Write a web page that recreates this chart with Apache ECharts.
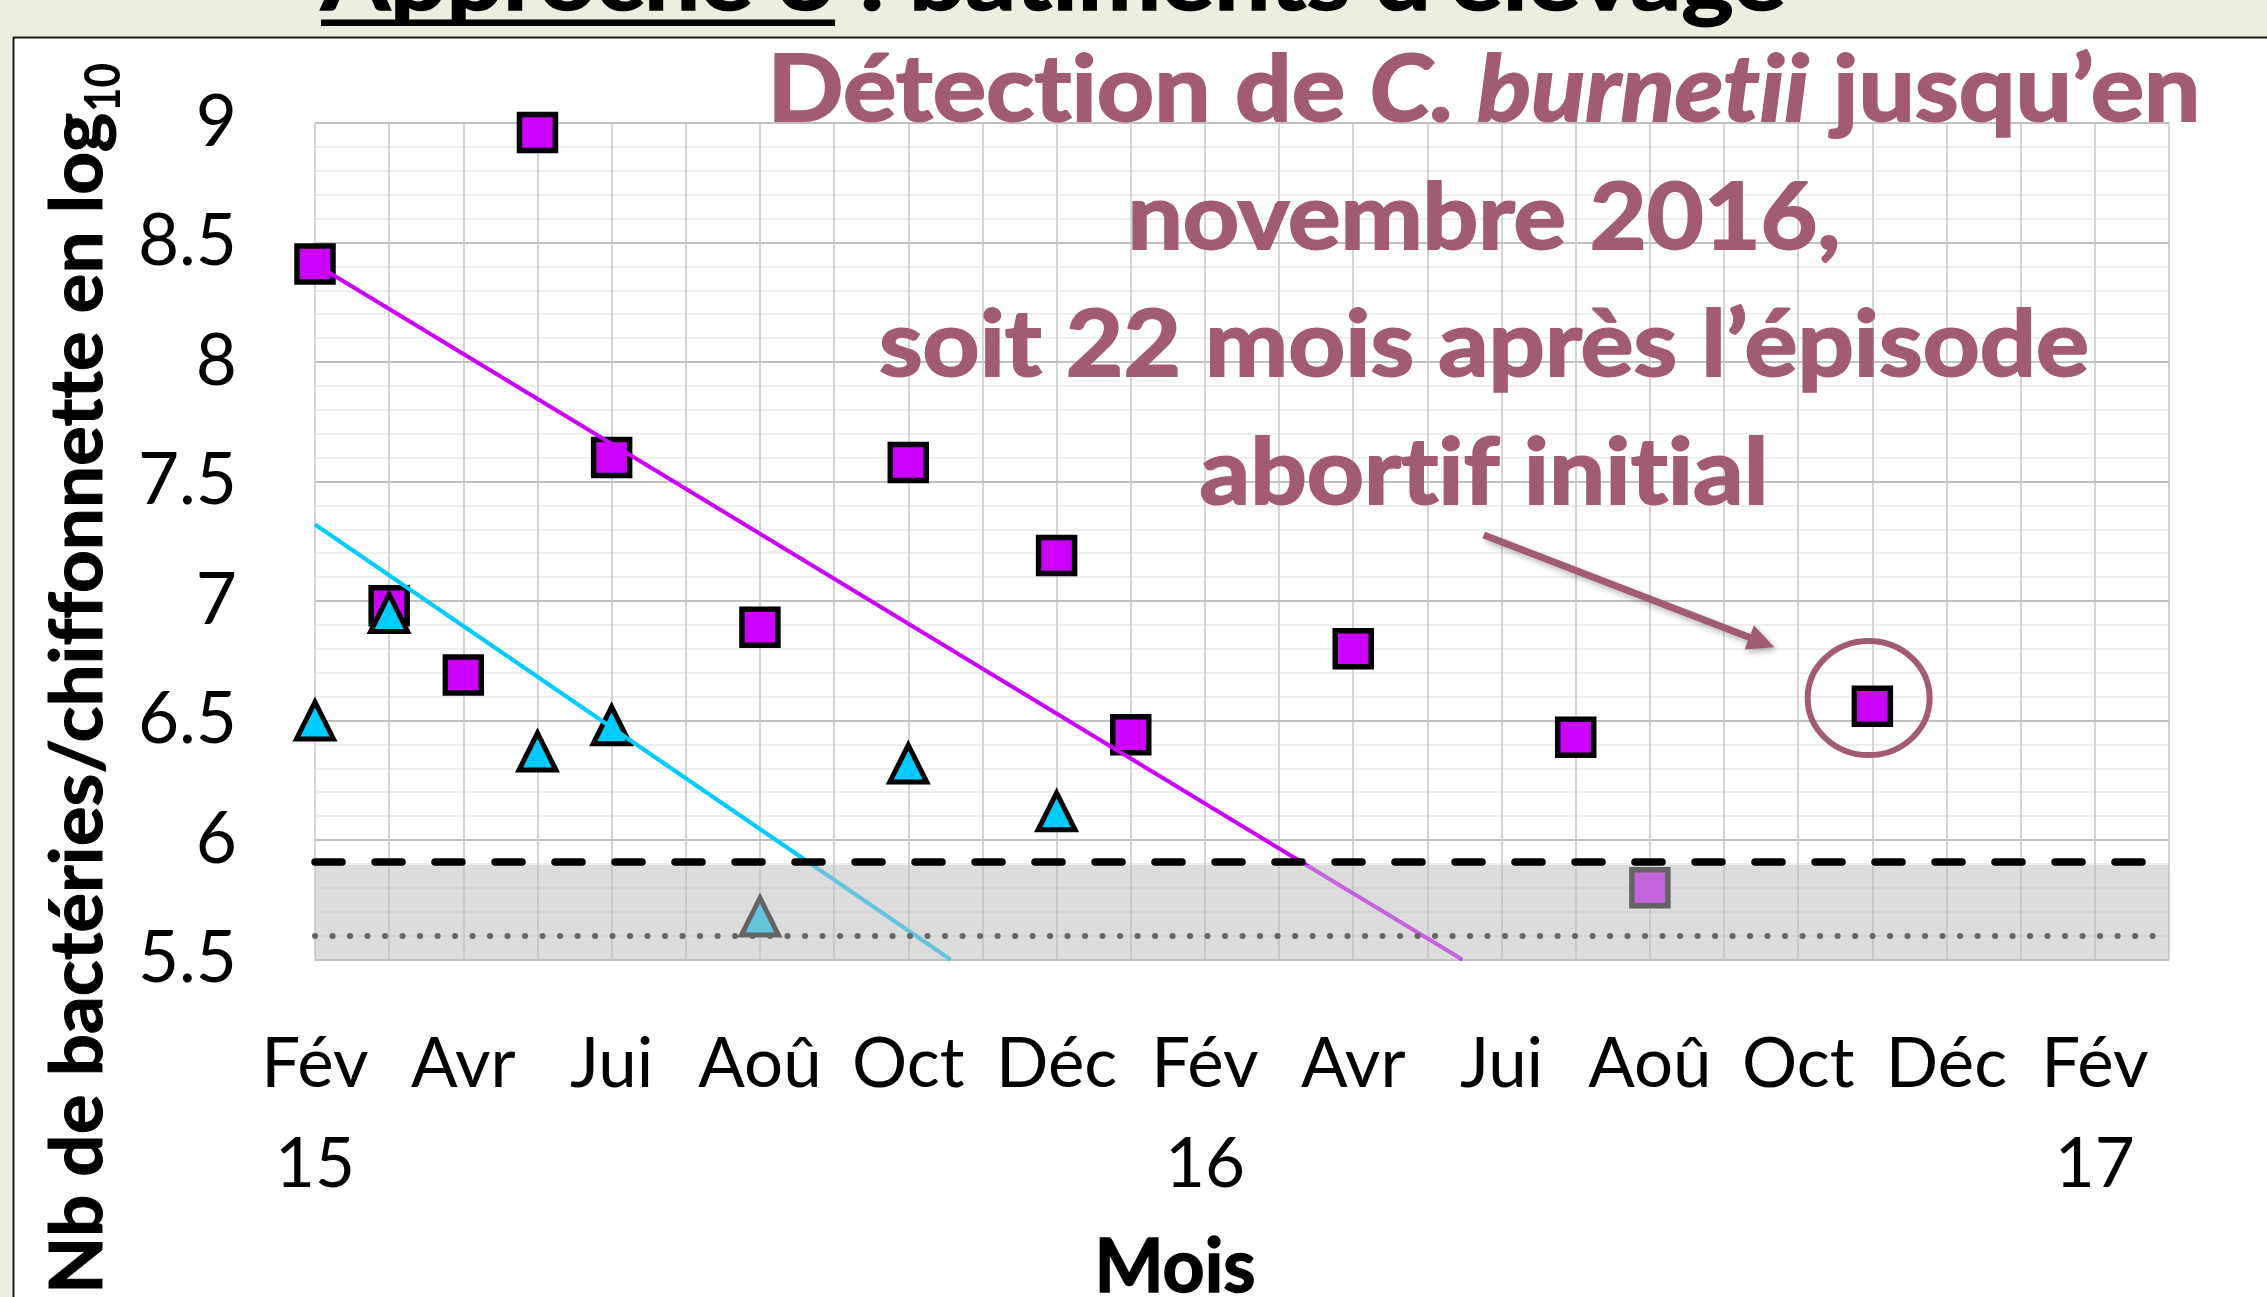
<!DOCTYPE html>
<html>
<head>
<meta charset="utf-8">
<script src="https://cdn.jsdelivr.net/npm/echarts@6/dist/echarts.min.js"></script>
<style>
  html, body { margin: 0; padding: 0; background: #ecefe0; }
  #chart { width: 2267px; height: 1297px; font-variant-ligatures: none; }
</style>
</head>
<body>
<div id="chart"></div>
<script>
// axe des x : mois écoulés depuis février 2015
const monthLabels = ['Fév', 'Avr', 'Jui', 'Aoû', 'Oct', 'Déc', 'Fév', 'Avr', 'Jui', 'Aoû', 'Oct', 'Déc', 'Fév'];
const yearLabels = ['15', '', '', '', '', '', '16', '', '', '', '', '', '17'];

// carrés (magenta)
const squareMonths = [0, 1, 2, 3, 4, 6, 8, 10, 11, 14, 17, 18, 21];
const squareValues = [8.41, 6.98, 6.69, 8.96, 7.60, 6.89, 7.58, 7.19, 6.44, 6.80, 6.43, 5.80, 6.56];

// triangles (cyan)
const triangleMonths = [0, 1, 3, 4, 6, 8, 10];
const triangleValues = [6.50, 6.95, 6.37, 6.48, 5.68, 6.32, 6.12];

// courbes de tendance (début, fin)
const squareTrend = [[0, 8.41], [15.47, 5.5]];
const triangleTrend = [[0, 7.32], [8.57, 5.5]];

// seuils
const dashedLevel = 5.91;
const dottedLevel = 5.6;
const bandTop = 5.895;

const noteLines = [
  'Détection de {i|C. burnetii} jusqu’en',
  'novembre 2016,',
  'soit 22 mois après l’épisode',
  'abortif initial'
];

// ---- mise en page ----
const noteColor = '#a25c72';
const FONT = 'Lato';
const MID = 0.32; // décalage ligne de base / milieu
// pas de ligatures (ti, ff...) comme dans l'original
const noLig = s => s.replace(/t(?=i)/g, 't\u200B').replace(/f(?=[fil])/g, 'f\u200B');

const zip = (xs, ys) => xs.map((x, i) => [x, ys[i]]);

const chart = echarts.init(document.getElementById('chart'));

const option = {
  backgroundColor: '#ffffff',
  animation: false,
  grid: { left: 315, top: 123, width: 1854, height: 836.5, containLabel: false, outerBoundsMode: 'none' },
  xAxis: {
    type: 'value', min: 0, max: 25, interval: 1,
    axisLine: { show: false },
    axisTick: { show: false },
    splitLine: { show: true, lineStyle: { color: '#c6c6c6', width: 1.5 } },
    axisLabel: {
      margin: 55, fontFamily: FONT, fontSize: 69, color: '#000', lineHeight: 100,
      formatter: function (v) {
        if (v % 2 !== 0) return '';
        const i = v / 2;
        return yearLabels[i] ? monthLabels[i] + '\n' + yearLabels[i] : monthLabels[i];
      }
    }
  },
  yAxis: {
    type: 'value', min: 5.5, max: 9, interval: 0.5,
    axisLine: { show: false },
    axisTick: { show: false },
    splitLine: { show: true, lineStyle: { color: '#c0c0c0', width: 2 } },
    minorTick: { show: false, splitNumber: 5 },
    minorSplitLine: { show: true, lineStyle: { color: '#eeeeee', width: 2 } },
    axisLabel: { margin: 78, fontFamily: FONT, fontSize: 71, color: '#000', padding: [4, 0, 0, 0] }
  },
  series: [
    {
      type: 'scatter', z: 2,
      data: zip(squareMonths, squareValues),
      symbol: 'rect', symbolSize: 36,
      itemStyle: { color: '#cc00ff', borderColor: '#000', borderWidth: 5.5, opacity: 1 }
    },
    {
      type: 'scatter', z: 2,
      data: zip(triangleMonths, triangleValues),
      symbol: 'triangle', symbolSize: 37,
      itemStyle: { color: '#00ccff', borderColor: '#000', borderWidth: 5, opacity: 1 }
    },
    {
      type: 'line', z: 3, data: squareTrend, showSymbol: false, symbol: 'none',
      lineStyle: { color: '#cc00ff', width: 4 }
    },
    {
      type: 'line', z: 3, data: triangleTrend, showSymbol: false, symbol: 'none',
      lineStyle: { color: '#00ccff', width: 4 },
      markArea: {
        silent: true, z: 10,
        label: { show: false },
        itemStyle: { color: 'rgba(189,189,189,0.53)' },
        data: [[{ yAxis: 5.5 }, { yAxis: bandTop }]]
      },
      markLine: {
        silent: true, z: 11, symbol: 'none',
        label: { show: false },
        data: [
          { yAxis: dashedLevel, lineStyle: { color: '#000', width: 7.5, type: [27, 33], cap: 'round' } },
          { yAxis: dottedLevel, lineStyle: { color: '#666', width: 6, type: [0.1, 17.4], cap: 'round' } }
        ]
      }
    }
  ]
};
chart.setOption(option);

// ---- annotations ----
const ctx = document.createElement('canvas').getContext('2d');
function measure(text, size, weight, style) {
  ctx.font = (style || 'normal') + ' ' + (weight || 'normal') + ' ' + size + 'px ' + FONT;
  return ctx.measureText(noLig(text)).width;
}
function textEl(text, x, baseline, size, opts) {
  opts = opts || {};
  const align = opts.align || 'center';
  const style = {
    text: noLig(text), fill: opts.color || '#000',
    fontFamily: FONT, fontSize: size, fontWeight: opts.weight || 'normal',
    align: align, textAlign: align,
    verticalAlign: 'middle', textVerticalAlign: 'middle',
    rich: opts.rich
  };
  if (opts.strokeWidth) {
    style.stroke = opts.color || '#000';
    style.lineWidth = opts.strokeWidth;
  }
  return {
    type: 'text', z: 50,
    x: x, y: baseline - MID * size,
    scaleX: opts.scaleX || 1,
    rotation: opts.rotation || 0,
    style: style
  };
}

const graphics = [];

// cadre
graphics.push({ type: 'rect', z: 40, shape: { x: 0, y: 0, width: 2267, height: 37 }, style: { fill: '#ecefe0' } });
graphics.push({ type: 'rect', z: 40, shape: { x: 0, y: 0, width: 13, height: 1297 }, style: { fill: '#ecefe0' } });
graphics.push({ type: 'line', z: 41, shape: { x1: 13, y1: 37.5, x2: 2267, y2: 37.5 }, style: { stroke: '#1a1a1a', lineWidth: 2 } });
graphics.push({ type: 'line', z: 41, shape: { x1: 13.5, y1: 37, x2: 13.5, y2: 1297 }, style: { stroke: '#1a1a1a', lineWidth: 2 } });

// titre (coupé en haut)
const titleText = 'Approche 3 : bâtiments d’élevage';
const titleSize = 88;
const titleScale = 1465 / measure(titleText, titleSize, 'bold');
graphics.push(textEl(titleText, 321, 10, titleSize, { align: 'left', weight: 'bold', scaleX: titleScale, strokeWidth: 1.5 }));
const ulWidth = measure('Approche 3', titleSize, 'bold') * titleScale;
graphics.push({ type: 'rect', z: 50, shape: { x: 321, y: 19.5, width: ulWidth, height: 6.5 }, style: { fill: '#000' } });

// titre axe y (texte tourné)
const yTitle = 'Nb de bactéries/chiffonnette en log';
const yScale = 1178 / measure(yTitle, 72, 'bold');
const yTitleEl = textEl(yTitle, 0, 0, 72, { align: 'left', weight: 'bold', scaleX: yScale, rotation: Math.PI / 2, strokeWidth: 1 });
yTitleEl.x = 102 - MID * 72;
yTitleEl.y = 1294;
graphics.push(yTitleEl);
const subScale = 49 / measure('10', 49, 'bold');
const subEl = textEl('10', 0, 0, 49, { align: 'left', weight: 'bold', scaleX: subScale, rotation: Math.PI / 2 });
subEl.x = 120 - MID * 49;
subEl.y = 112;
graphics.push(subEl);

// titre axe x
const moisScale = 161 / measure('Mois', 74, 'bold');
graphics.push(textEl('Mois', 1175, 1292, 74, { weight: 'bold', scaleX: moisScale, strokeWidth: 1.5 }));

// texte d'annotation
const noteSize = 92;
const noteBaselines = [121, 249, 376, 504];
const noteWidths = [1433, 713, 1210, 569];
noteLines.forEach(function (line, k) {
  let w;
  if (k === 0) {
    w = measure('Détection de ', noteSize, 'bold') + measure('C. burnetii', noteSize, 'bold', 'italic') + measure(' jusqu’en', noteSize, 'bold');
  } else {
    w = measure(line, noteSize, 'bold');
  }
  graphics.push(textEl(line, 1484, noteBaselines[k], noteSize, {
    weight: 'bold', color: noteColor, scaleX: noteWidths[k] / w, strokeWidth: 2,
    rich: { i: { fontStyle: 'italic', fontWeight: 'bold', fontSize: noteSize, fontFamily: FONT, fill: noteColor, stroke: noteColor, lineWidth: 2 } }
  }));
});

// cercle et flèche
const circleCenter = chart.convertToPixel({ gridIndex: 0 }, [20.95, 6.594]);
graphics.push({
  type: 'ellipse', z: 50,
  shape: { cx: circleCenter[0], cy: circleCenter[1], rx: 61, ry: 57 },
  style: { fill: 'none', stroke: noteColor, lineWidth: 6 }
});
const aStart = chart.convertToPixel({ gridIndex: 0 }, [15.76, 7.276]);
const aTip = chart.convertToPixel({ gridIndex: 0 }, [19.68, 6.807]);
const dx = aTip[0] - aStart[0], dy = aTip[1] - aStart[1];
const len = Math.sqrt(dx * dx + dy * dy);
const ux = dx / len, uy = dy / len, nx = -uy, ny = ux;
const headLen = 27, headHalf = 13;
const shadow = { shadowBlur: 6, shadowColor: 'rgba(0,0,0,0.3)', shadowOffsetX: 2, shadowOffsetY: 3 };
graphics.push({
  type: 'line', z: 50,
  shape: { x1: aStart[0], y1: aStart[1], x2: aTip[0] - ux * (headLen - 4), y2: aTip[1] - uy * (headLen - 4) },
  style: Object.assign({ stroke: noteColor, lineWidth: 7 }, shadow)
});
graphics.push({
  type: 'polygon', z: 50,
  shape: { points: [
    [aTip[0], aTip[1]],
    [aTip[0] - ux * headLen + nx * headHalf, aTip[1] - uy * headLen + ny * headHalf],
    [aTip[0] - ux * headLen - nx * headHalf, aTip[1] - uy * headLen - ny * headHalf]
  ] },
  style: Object.assign({ fill: noteColor }, shadow)
});

chart.setOption({ graphic: { elements: graphics } });
</script>
</body>
</html>
